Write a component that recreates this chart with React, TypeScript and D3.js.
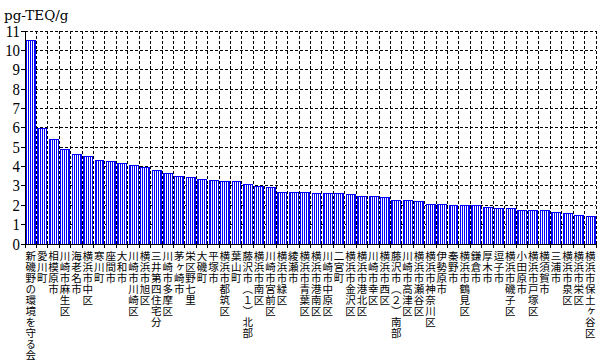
import React from "react";
import * as d3 from "d3";

const categories = [
  "新磯野の環境を守る会", "愛川町", "相模原市", "川崎市麻生区", "海老名市", "横浜市中区", "寒川町", "座間市", "大和市", "川崎市川崎区",
  "横浜市旭区", "三井第四住宅分", "川崎市多摩区", "茅ヶ崎市", "栄区野七里", "大磯町", "平塚市", "横浜市都筑区", "葉山町", "藤沢市（1）北部",
  "横浜市南区", "川崎市宮前区", "横浜市緑区", "綾瀬市", "横浜市青葉区", "横浜市港南区", "川崎市中原区", "二宮町", "横浜市金沢区", "横浜市港北区",
  "川崎市幸区", "横浜市西区", "藤沢市（2）南部", "川崎市高津区", "横浜市瀬谷区", "横浜市神奈川区", "伊勢原市", "秦野市", "横浜市鶴見区", "鎌倉市",
  "厚木市", "逗子市", "横浜市磯子区", "小田原市", "横浜市戸塚区", "横須賀市", "三浦市", "横浜市泉区", "横浜市栄区", "横浜市保土ヶ谷区",
];

const values = [
  10.5, 5.95, 5.41, 4.89, 4.6, 4.5, 4.3, 4.25, 4.18, 4.06,
  3.93, 3.82, 3.62, 3.5, 3.44, 3.34, 3.29, 3.24, 3.22, 3.06,
  2.98, 2.93, 2.67, 2.65, 2.65, 2.62, 2.62, 2.6, 2.57, 2.46,
  2.44, 2.39, 2.24, 2.24, 2.2, 2.05, 2.05, 2.0, 2.0, 2.0,
  1.89, 1.81, 1.81, 1.74, 1.74, 1.74, 1.62, 1.58, 1.48, 1.41,
];

const yTicks = [0, 1, 2, 3, 4, 5, 6, 7, 8, 9, 10, 11];
const unitLabel = "pg-TEQ/g";

const W = 605;
const H = 363;

const verticalForm: Record<string, string> = { "1": "１", "2": "２" };

export default function App() {
  const x = d3.scaleBand<string>().domain(categories).range([25, 596]).padding(0);
  const y = d3.scaleLinear().domain([0, 11]).range([244, 31]);
  const step = x.step();
  const [x0, x1] = x.range();

  return (
    <svg width={W} height={H} style={{ position: "absolute", left: 0, top: 0, background: "#fff" }}>
      <defs>
        <pattern id="stripes" width={2} height={4} patternUnits="userSpaceOnUse">
          <rect x={0} y={0} width={2} height={4} fill="#ffffff" />
          <rect x={0} y={0} width={1} height={4} fill="#0000ff" />
        </pattern>
      </defs>
      <text x={4} y={20} fontFamily="DejaVu Serif" fontSize={13.5} fill="#000">{unitLabel}</text>

      {/* horizontal grid */}
      {yTicks.filter(t => t > 0).map(t => (
        <line key={"h" + t} x1={x0} x2={x1} y1={y(t)} y2={y(t)} stroke="#000" strokeWidth={1} strokeDasharray="3,2" shapeRendering="crispEdges" />
      ))}
      {/* vertical grid */}
      {categories.map(c => (
        <line key={"v" + c} x1={(x(c) as number) + step} x2={(x(c) as number) + step} y1={y(11)} y2={y(0)} stroke="#000" strokeWidth={1} strokeDasharray="3,2" shapeRendering="crispEdges" />
      ))}

      {/* bars */}
      {categories.map((c, i) => (
        <rect key={"b" + c} x={(x(c) as number) + 1.5} width={step - 2.5} y={y(values[i])} height={y(0) - y(values[i])}
          fill="url(#stripes)" stroke="#0000ff" strokeWidth={1} shapeRendering="crispEdges" />
      ))}

      {/* axes */}
      <line x1={x0} x2={x0} y1={y(11)} y2={y(0)} stroke="#000" strokeWidth={1} shapeRendering="crispEdges" />
      <line x1={x0} x2={x1} y1={y(0)} y2={y(0)} stroke="#000" strokeWidth={1} shapeRendering="crispEdges" />
      {yTicks.map(t => (
        <g key={"yt" + t}>
          <line x1={x0 - 4} x2={x0} y1={y(t)} y2={y(t)} stroke="#000" shapeRendering="crispEdges" />
          <text transform={`translate(20,${y(t) + 5.5}) scale(0.9,1)`} textAnchor="end" fontFamily="Liberation Serif" fontSize={16.5} fill="#000">{t}</text>
        </g>
      ))}
      {[x0, ...categories.map(c => (x(c) as number) + step)].map((px, i) => (
        <line key={"xt" + i} x1={px} x2={px} y1={y(0)} y2={y(0) + 4} stroke="#000" shapeRendering="crispEdges" />
      ))}

      {/* vertical category labels */}
      {categories.map(c => {
        const cx = (x(c) as number) + step / 2;
        const txt = Array.from(c).map(ch => verticalForm[ch] ?? ch).join("");
        return (
          <text key={"l" + c} x={cx} y={251} fontFamily="'Noto Sans CJK JP'" fontSize={10.5} fill="#000"
            style={{ writingMode: "vertical-rl", textOrientation: "mixed", letterSpacing: "0.5px" } as React.CSSProperties}>
            {txt}
          </text>
        );
      })}
    </svg>
  );
}
